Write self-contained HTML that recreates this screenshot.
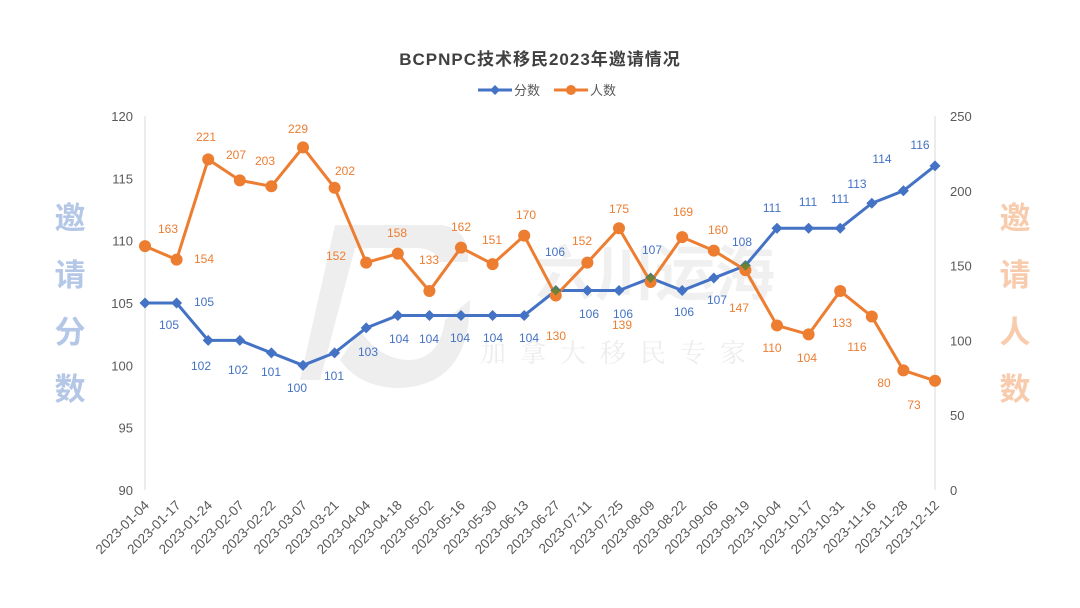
<!DOCTYPE html>
<html><head><meta charset="utf-8"><style>
html,body{margin:0;padding:0;background:#fff;}
svg{display:block;font-family:"Liberation Sans","Noto Sans CJK SC",sans-serif;}
</style></head><body>
<svg id="c" width="1080" height="608" viewBox="0 0 1080 608" xmlns="http://www.w3.org/2000/svg"></svg>
<script>
const svg=document.getElementById('c');
const dates=["2023-01-04","2023-01-17","2023-01-24","2023-02-07","2023-02-22","2023-03-07","2023-03-21","2023-04-04","2023-04-18","2023-05-02","2023-05-16","2023-05-30","2023-06-13","2023-06-27","2023-07-11","2023-07-25","2023-08-09","2023-08-22","2023-09-06","2023-09-19","2023-10-04","2023-10-17","2023-10-31","2023-11-16","2023-11-28","2023-12-12"];
const sc=[105,105,102,102,101,100,101,103,104,104,104,104,104,106,106,106,107,106,107,108,111,111,111,113,114,116];
const pp=[163,154,221,207,203,229,202,152,158,133,162,151,170,130,152,175,139,169,160,147,110,104,133,116,80,73];
const oL=[[168,229],[204,259],[206,137],[236,155],[265,161],[298,129],[345,171],[336,256],[397,233],[429,260],[461,227],[492,240],[526,215],[556,336],[582,241],[619,209],[622,325],[683,212],[718,230],[739,308],[772,348],[807,358],[842,323],[857,347],[884,383],[914,405]];
const bL=[[169,325],[204,302],[201,366],[238,370],[271,372],[297,388],[334,376],[368,352],[399,339],[429,339],[460,338],[493,338],[529,338],[555,252],[589,314],[623,314],[652,250],[684,312],[717,300],[742,242],[772,208],[808,202],[840,199],[857,184],[882,159],[920,145]];
const X=i=>145+i*31.6, YL=v=>490-(v-90)*12.467, YR=v=>490-v*1.496;
let h='';
h+='<text x="540" y="65" text-anchor="middle" font-size="17" font-weight="bold" fill="#404040" letter-spacing="1">BCPNPC技术移民2023年邀请情况</text>';
h+='<line x1="478" y1="90" x2="512" y2="90" stroke="#4472c4" stroke-width="3"/><path d="M495 85l5 5-5 5-5-5z" fill="#4472c4"/><text x="514" y="95" font-size="13" fill="#595959">分数</text>';
h+='<line x1="554" y1="90" x2="588" y2="90" stroke="#ed7d31" stroke-width="3"/><circle cx="571" cy="90" r="5" fill="#ed7d31"/><text x="590" y="95" font-size="13" fill="#595959">人数</text>';
h+='<path d="M335 225 L440 225 Q470 228 468 262 L440 262 Q435 248 415 248 L355 248 L320 380 L300 380 Z" fill="#eeeeee"/>';
h+='<path d="M360 330 Q380 360 410 360 Q440 358 445 320 L470 300 Q470 385 400 388 Q360 388 340 360 Z" fill="#eeeeee"/>';
h+='<text x="655" y="295" font-size="60" fill="#f0f0f0" text-anchor="middle" font-weight="bold">六川运海</text>';
h+='<text x="620" y="362" font-size="26" fill="#ededed" text-anchor="middle" font-family="Noto Serif CJK SC,serif" letter-spacing="14">加拿大移民专家</text>';
h+='<line x1="145" y1="116" x2="145" y2="490" stroke="#d9d9d9"/><line x1="935" y1="116" x2="935" y2="490" stroke="#d9d9d9"/>';
for(let v=90;v<=120;v+=5)h+=`<text x="133" y="${YL(v)+5}" text-anchor="end" font-size="13" fill="#595959">${v}</text>`;
for(let v=0;v<=250;v+=50)h+=`<text x="950" y="${YR(v)+5}" font-size="13" fill="#595959">${v}</text>`;
dates.forEach((d,i)=>{h+=`<text transform="translate(${X(i)+5},${506}) rotate(-45)" text-anchor="end" font-size="13.5" fill="#595959">${d}</text>`;});
['邀','请','分','数'].forEach((c,i)=>h+=`<text x="70" y="${229+i*57}" text-anchor="middle" font-size="31" font-weight="bold" fill="#b4c7e7">${c}</text>`);
['邀','请','人','数'].forEach((c,i)=>h+=`<text x="1015" y="${229+i*57}" text-anchor="middle" font-size="31" font-weight="bold" fill="#f8cbad">${c}</text>`);
h+=`<polyline fill="none" stroke="#4472c4" stroke-width="3" points="${sc.map((v,i)=>X(i)+','+YL(v)).join(' ')}"/>`;
h+=`<polyline fill="none" stroke="#ed7d31" stroke-width="3" points="${pp.map((v,i)=>X(i)+','+YR(v)).join(' ')}"/>`;
sc.forEach((v,i)=>{const x=X(i),y=YL(v);h+=`<path d="M${x} ${y-5.5}l5.5 5.5-5.5 5.5-5.5-5.5z" fill="#4472c4"/>`;});
pp.forEach((v,i)=>{h+=`<circle cx="${X(i)}" cy="${YR(v)}" r="6" fill="#ed7d31"/>`;});
[13,16,19].forEach(i=>{const x=X(i),y=YL(sc[i]);h+=`<path d="M${x} ${y-5}l5 5-5 5-5-5z" fill="#548235" opacity="0.8"/>`;});
pp.forEach((v,i)=>{const [lx,ly]=oL[i];h+=`<text x="${lx}" y="${ly+4}" text-anchor="middle" font-size="12" fill="#ed7d31">${v}</text>`;});
sc.forEach((v,i)=>{const [lx,ly]=bL[i];h+=`<text x="${lx}" y="${ly+4}" text-anchor="middle" font-size="12" fill="#4472c4">${v}</text>`;});
svg.innerHTML=h;
</script>
</body></html>
